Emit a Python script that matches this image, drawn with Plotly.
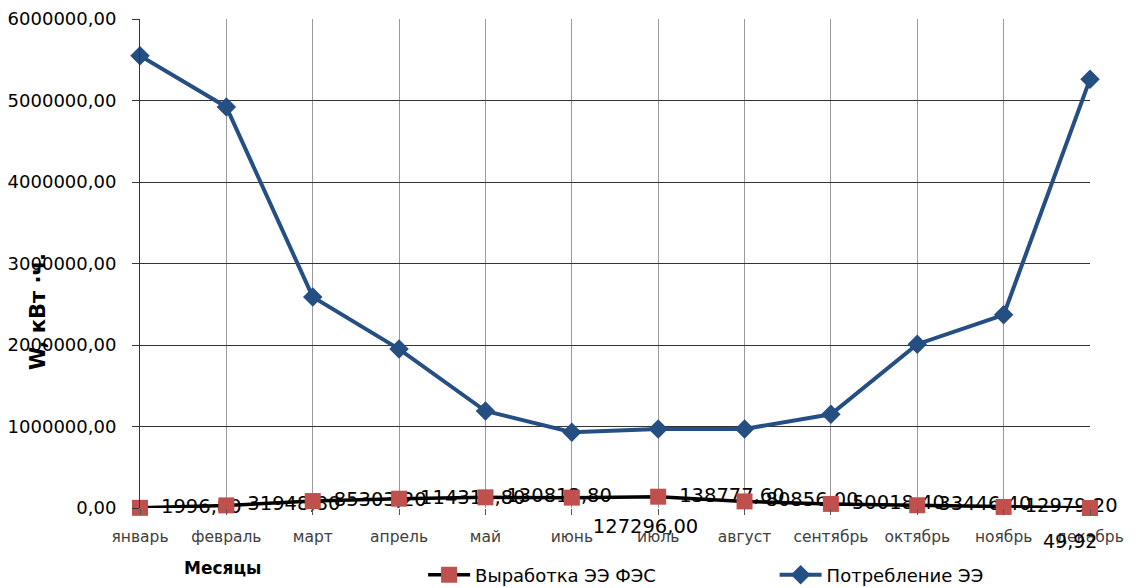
import plotly.graph_objects as go

months = ["январь", "февраль", "март", "апрель", "май", "июнь",
          "июль", "август", "сентябрь", "октябрь", "ноябрь", "декабрь"]
generation = [1996.80, 31948.80, 85303.20, 114316.80, 130812.80, 127296.00,
              138777.60, 80856.00, 50018.40, 33446.40, 12979.20, 49.92]
consumption = [5550000, 4920000, 2590000, 1950000, 1190000, 930000,
               970000, 970000, 1150000, 2010000, 2370000, 5260000]
y_ticks = [0, 1000000, 2000000, 3000000, 4000000, 5000000, 6000000]

x = list(range(len(months)))

def fmt(v):
    return f"{v:.2f}".replace(".", ",")

label_pos = ["middle right"] * 12
label_pos[5] = "bottom right"

fig = go.Figure()

# data labels (drawn first so markers sit on top)
fig.add_trace(go.Scatter(
    x=x[:11], y=generation[:11], mode="markers+text",
    text=[fmt(v) for v in generation[:11]],
    textposition=label_pos[:11],
    textfont=dict(family="DejaVu Sans", size=19.5, color="#000000"),
    marker=dict(size=32, opacity=0),
    showlegend=False, hoverinfo="skip", cliponaxis=False,
))

fig.add_trace(go.Scatter(
    x=x, y=generation, mode="lines+markers",
    name="Выработка ЭЭ ФЭС",
    line=dict(color="#000000", width=3.5),
    marker=dict(symbol="square", size=16, color="#C0504D"),
    cliponaxis=False, legend="legend",
))
fig.add_trace(go.Scatter(
    x=x, y=consumption, mode="lines+markers",
    name="Потребление ЭЭ",
    line=dict(color="#254E82", width=4),
    marker=dict(symbol="diamond", size=15, color="#254E82"),
    cliponaxis=False, legend="legend2",
))

fig.add_annotation(x=x[11], y=generation[11], text=fmt(generation[11]),
                   showarrow=False, xshift=-20, yshift=-33,
                   font=dict(family="DejaVu Sans", size=19, color="#000000"))

W, H = 1127, 580
fig.update_layout(
    width=W, height=H,
    margin=dict(l=132, r=45, t=11, b=80, autoexpand=False),
    paper_bgcolor="white", plot_bgcolor="white",
    font=dict(family="DejaVu Sans", color="#000000"),
    xaxis=dict(
        range=[0, 11], tickmode="array", tickvals=x, ticktext=months,
        showgrid=True, gridcolor="#9a9a9a", gridwidth=1,
        zeroline=False, showline=False, automargin=False,
        ticks="outside", ticklen=6, tickcolor="#555555",
        ticklabelstandoff=8,
        tickfont=dict(family="DejaVu Sans", size=15.5, color="#404040"),
    ),
    yaxis=dict(
        range=[0, 6000000], tickmode="array", tickvals=y_ticks,
        ticktext=[f"{v},00" for v in y_ticks],
        showgrid=True, gridcolor="#333333", gridwidth=1,
        zeroline=False, showline=True, linecolor="#333333", linewidth=1,
        automargin=False,
        ticks="outside", ticklen=7, tickcolor="#333333",
        ticklabelstandoff=12,
        tickfont=dict(family="DejaVu Sans", size=18, color="#000000"),
    ),
    legend=dict(orientation="h", x=0.298, y=(H - 567) / H, yref="container",
                xanchor="left", yanchor="middle",
                font=dict(family="DejaVu Sans", size=18, color="#000000"),
                bgcolor="rgba(0,0,0,0)", itemwidth=42),
    legend2=dict(orientation="h", x=0.668, y=(H - 567) / H, yref="container",
                 xanchor="left", yanchor="middle",
                 font=dict(family="DejaVu Sans", size=18, color="#000000"),
                 bgcolor="rgba(0,0,0,0)", itemwidth=42),
    annotations=list(fig.layout.annotations) + [
        dict(text="<b>W, кВт ·ч.</b>", textangle=-90, showarrow=False,
             xref="paper", yref="paper", x=(38 - 140) / 950, y=(508 - 312) / 489,
             xanchor="center", yanchor="middle",
             font=dict(family="DejaVu Sans", size=21, color="#000000")),
        dict(text="<b>Месяцы</b>", showarrow=False,
             xref="paper", yref="paper", x=(222 - 140) / 950, y=(508 - 568) / 489,
             xanchor="center", yanchor="middle",
             font=dict(family="DejaVu Sans", size=17, color="#000000")),
    ],
)

fig.write_html("out.html")
